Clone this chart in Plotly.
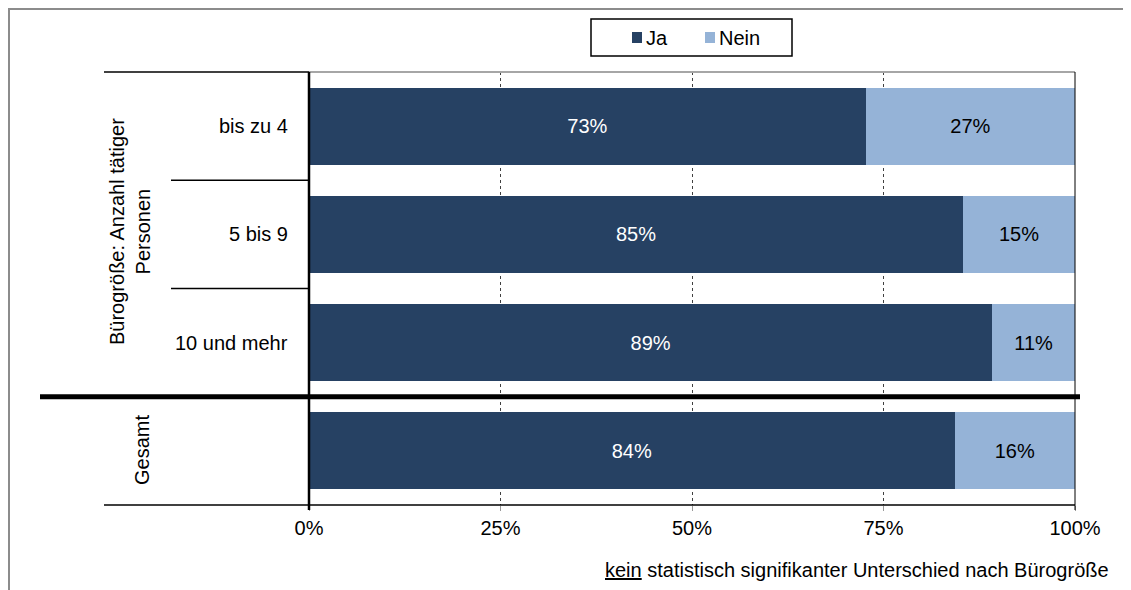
import plotly.graph_objects as go

# ---- data ----
categories = ["bis zu 4", "5 bis 9", "10 und mehr", "Gesamt"]
ja_values = [72.7, 85.4, 89.2, 84.3]
nein_values = [27.3, 14.6, 10.8, 15.7]
ja_labels = ["73%", "85%", "89%", "84%"]
nein_labels = ["27%", "15%", "11%", "16%"]
tick_values = [0, 25, 50, 75, 100]
tick_labels = ["0%", "25%", "50%", "75%", "100%"]
series_names = ["Ja", "Nein"]
group_label = "Bürogröße: Anzahl tätiger<br>Personen"
total_label = "Gesamt"
note_text = "<u>kein</u> statistisch signifikanter Unterschied nach Bürogröße"

DARK = "#264163"
LIGHT = "#95B3D7"
FONT = "Liberation Sans, Arial, sans-serif"
FS = 20

OFF = 8  # page body margin
W, H = 1131 - OFF, 590 - OFF
L, R, T, B = 309 - OFF, 56, 72 - OFF, 85
PW = W - L - R
PH = H - T - B


def px(x):
    return (x - OFF - L) / PW


def py(y):
    return (H - B - (y - OFF)) / PH


fig = go.Figure()
fig.add_trace(go.Bar(
    y=categories, x=ja_values, orientation="h", name=series_names[0],
    marker=dict(color=DARK, line=dict(width=0)),
    text=ja_labels, textposition="inside", insidetextanchor="middle",
    textangle=0, constraintext="none",
    textfont=dict(color="white", size=FS, family=FONT),
    showlegend=False,
))
fig.add_trace(go.Bar(
    y=categories, x=nein_values, orientation="h", name=series_names[1],
    marker=dict(color=LIGHT, line=dict(width=0)),
    text=nein_labels, textposition="inside", insidetextanchor="middle",
    textangle=0, constraintext="none",
    textfont=dict(color="black", size=FS, family=FONT),
    showlegend=False,
))

shapes = []
# outer border (as close to the page edge as the figure allows)
shapes.append(dict(type="rect", xref="paper", yref="paper",
                   x0=px(9), x1=px(1129), y0=py(9), y1=py(600),
                   line=dict(color="#8c8c8c", width=2), fillcolor="rgba(0,0,0,0)"))
# plot top (gray) and right (black)
shapes.append(dict(type="line", xref="paper", yref="paper", x0=0, x1=1, y0=1, y1=1,
                   line=dict(color="#a6a6a6", width=2)))
shapes.append(dict(type="line", xref="paper", yref="paper", x0=1, x1=1, y0=py(510), y1=1,
                   line=dict(color="black", width=1)))
# left axis line
shapes.append(dict(type="line", xref="paper", yref="paper", x0=0, x1=0, y0=py(510), y1=1,
                   line=dict(color="black", width=2.5)))
# bottom axis line
shapes.append(dict(type="line", xref="paper", yref="paper", x0=0, x1=1, y0=0, y1=0,
                   line=dict(color="black", width=1.5)))
# hierarchy lines on the left
shapes.append(dict(type="line", xref="paper", yref="paper", x0=px(104), x1=0, y0=1, y1=1,
                   line=dict(color="black", width=1.5)))
shapes.append(dict(type="line", xref="paper", yref="paper", x0=px(171), x1=0, y0=0.75, y1=0.75,
                   line=dict(color="black", width=1.5)))
shapes.append(dict(type="line", xref="paper", yref="paper", x0=px(171), x1=0, y0=0.5, y1=0.5,
                   line=dict(color="black", width=1.5)))
shapes.append(dict(type="line", xref="paper", yref="paper", x0=px(104), x1=0, y0=0, y1=0,
                   line=dict(color="black", width=1.5)))
# thick separator before Gesamt
shapes.append(dict(type="line", xref="paper", yref="paper", x0=px(40), x1=px(1080), y0=0.25, y1=0.25,
                   line=dict(color="black", width=5)))
# custom legend
shapes.append(dict(type="rect", xref="paper", yref="paper",
                   x0=px(591), x1=px(792), y0=py(56), y1=py(19),
                   line=dict(color="black", width=1.5), fillcolor="white"))
shapes.append(dict(type="rect", xref="paper", yref="paper",
                   x0=px(632), x1=px(642), y0=py(43), y1=py(32),
                   line=dict(width=0), fillcolor=DARK))
shapes.append(dict(type="rect", xref="paper", yref="paper",
                   x0=px(705), x1=px(715), y0=py(43), y1=py(32),
                   line=dict(width=0), fillcolor=LIGHT))

annotations = []
for c in categories[:3]:
    annotations.append(dict(text=c, xref="paper", yref="y", x=px(290), y=c,
                            xanchor="right", yanchor="middle", showarrow=False,
                            font=dict(size=FS, family=FONT, color="black")))
annotations.append(dict(text=group_label, xref="paper", yref="paper",
                        x=px(130), y=py(232), textangle=-90, showarrow=False,
                        xanchor="center", yanchor="middle",
                        font=dict(size=FS, family=FONT, color="black")))
annotations.append(dict(text=total_label, xref="paper", yref="paper",
                        x=px(142), y=py(450), textangle=-90, showarrow=False,
                        xanchor="center", yanchor="middle",
                        font=dict(size=FS, family=FONT, color="black")))
annotations.append(dict(text=note_text, xref="paper", yref="paper",
                        x=px(1111), y=py(570), xanchor="right", yanchor="middle",
                        showarrow=False, font=dict(size=FS, family=FONT, color="black")))
annotations.append(dict(text=series_names[0], xref="paper", yref="paper",
                        x=px(644), y=py(37.5), xanchor="left", yanchor="middle",
                        showarrow=False, font=dict(size=FS, family=FONT, color="black")))
annotations.append(dict(text=series_names[1], xref="paper", yref="paper",
                        x=px(717), y=py(37.5), xanchor="left", yanchor="middle",
                        showarrow=False, font=dict(size=FS, family=FONT, color="black")))

fig.update_layout(
    width=W, height=H,
    margin=dict(l=L, r=R, t=T, b=B, pad=0),
    paper_bgcolor="white", plot_bgcolor="white",
    barmode="stack", bargap=0.29,
    font=dict(family=FONT, size=FS, color="black"),
    shapes=shapes, annotations=annotations,
    xaxis=dict(range=[0, 100], tickvals=tick_values, ticktext=tick_labels,
               showgrid=True, gridcolor="#404040", griddash="dot", gridwidth=1,
               zeroline=False, showline=False,
               ticks="outside", ticklen=5, tickcolor="#999999", tickwidth=1,
               tickfont=dict(size=FS, family=FONT, color="black"),
               fixedrange=True),
    yaxis=dict(categoryorder="array", categoryarray=categories,
               range=[3.5, -0.5], showticklabels=False, showgrid=False,
               zeroline=False, showline=False, ticks="", fixedrange=True),
    showlegend=False,
)

fig.write_html("out.html")
